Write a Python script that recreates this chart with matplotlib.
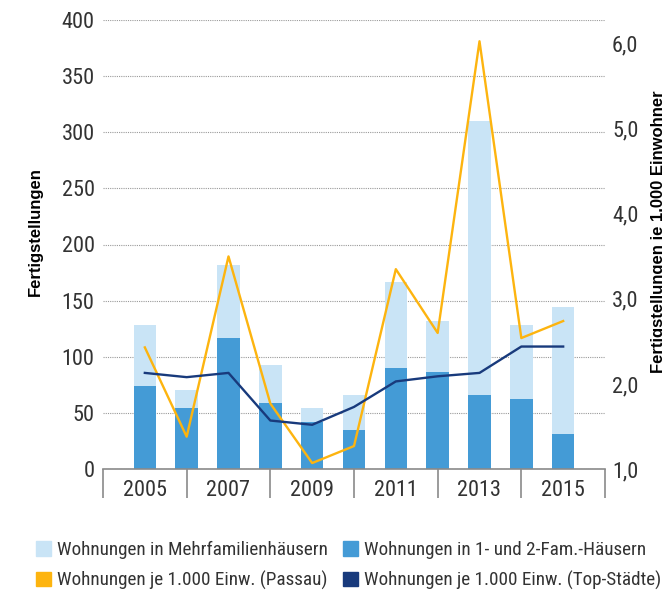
import matplotlib
matplotlib.use("Agg")
import matplotlib.pyplot as plt
from matplotlib.patches import Patch
from matplotlib.ticker import FixedLocator, FuncFormatter
import numpy as np

years = [2005, 2006, 2007, 2008, 2009, 2010, 2011, 2012, 2013, 2014, 2015]
year_labels = ["2005", "2007", "2009", "2011", "2013", "2015"]
ein_zwei_fam = [74, 54, 117, 59, 42, 35, 90, 86, 66, 62, 31]
mehrfam = [54, 16, 65, 34, 12, 31, 77, 46, 244, 66, 113]
passau = [2.43, 1.38, 3.50, 1.77, 1.07, 1.27, 3.35, 2.60, 6.03, 2.54, 2.74]
top_staedte = [2.13, 2.08, 2.13, 1.57, 1.52, 1.73, 2.03, 2.09, 2.13, 2.44, 2.44]

c_light = "#c9e4f6"
c_mid = "#449bd6"
c_orange = "#fdb40f"
c_navy = "#183a7c"
c_text = "#333333"
narrow = ["Roboto Condensed", "DejaVu Sans"]

W, H = 662, 599
fig = plt.figure(figsize=(W / 100, H / 100), dpi=100)
ax = fig.add_axes([103 / W, 1 - 469 / H, (605 - 103) / W, (469 - 20) / H])
ax2 = ax.twinx()

x = np.arange(len(years))
ax.bar(x, ein_zwei_fam, width=0.54, color=c_mid, zorder=2)
ax.bar(x, mehrfam, bottom=ein_zwei_fam, width=0.54, color=c_light, zorder=2)

ax.set_ylim(0, 400)
ax.set_xlim(-1, 11)
ax.set_yticks(np.arange(0, 401, 50))
ax.yaxis.grid(True, linestyle=(0, (1, 1)), color="#9a9a9a", linewidth=0.8, zorder=0)
ax.set_axisbelow(True)

ax2.plot(x, passau, color=c_orange, linewidth=1.7, zorder=3)
ax2.plot(x, top_staedte, color=c_navy, linewidth=1.7, zorder=3)
ax2.set_ylim(1.0, 6.28)
ax2.set_yticks([1, 2, 3, 4, 5, 6])
ax2.yaxis.set_major_formatter(FuncFormatter(lambda v, p: f"{v:.1f}".replace(".", ",")))

for a in (ax, ax2):
    for s in ("left", "right", "top", "bottom"):
        a.spines[s].set_visible(False)
ax.spines["bottom"].set_visible(True)
ax.spines["bottom"].set_color("#8a8a8a")
ax.spines["bottom"].set_linewidth(1.2)

# x axis: labels at even years, separators at odd positions
ax.set_xticks(x[::2])
ax.set_xticklabels(year_labels)
ax.xaxis.set_minor_locator(FixedLocator(np.arange(-1, 12, 2)))
ax.tick_params(axis="x", which="major", length=0, pad=8, labelsize=16, labelcolor=c_text)
ax.tick_params(axis="x", which="minor", length=21, width=1.2, color="#8a8a8a", direction="out")
ax.tick_params(axis="y", length=0, pad=6, labelsize=16, labelcolor=c_text)
ax2.tick_params(axis="y", length=0, pad=5, labelsize=16, labelcolor=c_text)
for lab in ax.get_xticklabels() + ax.get_yticklabels() + ax2.get_yticklabels():
    lab.set_family(narrow)

fig.text(35.5 / W, 1 - 232 / H, "Fertigstellungen", rotation=90, ha="center", va="center",
         fontsize=12, fontweight="bold", family=["Liberation Sans", "DejaVu Sans"], color="black")
fig.text(651 / W, 1 - 232 / H, "Fertigstellungen je 1.000 Einwohner", rotation=90, ha="left", va="center",
         fontsize=12, fontweight="bold", family=["Liberation Sans", "DejaVu Sans"], color="black")

handles = [
    Patch(color=c_light, label="Wohnungen in Mehrfamilienhäusern"),
    Patch(color=c_orange, label="Wohnungen je 1.000 Einw. (Passau)"),
    Patch(color=c_mid, label="Wohnungen in 1- und 2-Fam.-Häusern"),
    Patch(color=c_navy, label="Wohnungen je 1.000 Einw. (Top-Städte)"),
]
leg = fig.legend(handles=handles, ncol=2, loc="upper left",
                 bbox_to_anchor=(36 / W, 1 - 541 / H), frameon=False,
                 borderpad=0, borderaxespad=0, handlelength=0.8, handleheight=0.8,
                 handletextpad=0.28, columnspacing=0.8, labelspacing=0.6,
                 prop={"family": narrow, "size": 13.8})
for t in leg.get_texts():
    t.set_color(c_text)

fig.savefig("out.png", dpi=100)
